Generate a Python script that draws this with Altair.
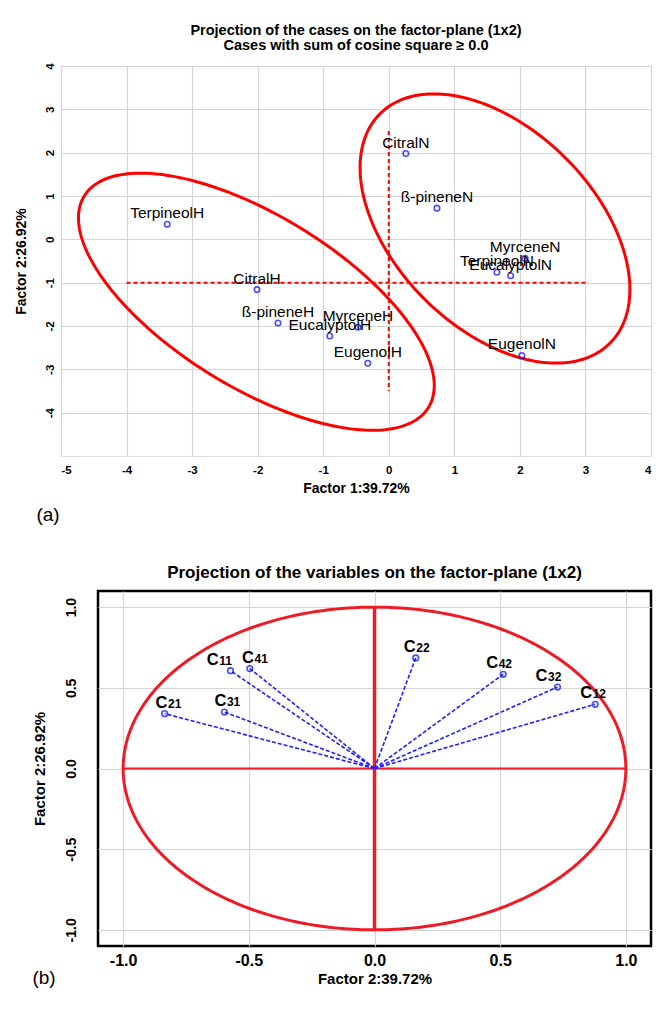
import numpy as np
import pandas as pd
import altair as alt

FONT = "Liberation Sans"

# ---------------- Panel (a): projection of the cases ----------------
case_names = ["TerpineolH", "CitralH", "ß-pineneH", "EucalyptolH", "MyrceneH", "EugenolH",
              "CitralN", "ß-pineneN", "TerpineolN", "EucalyptolN", "MyrceneN", "EugenolN"]
case_f1 = [-3.38, -2.01, -1.69, -0.90, -0.47, -0.32, 0.26, 0.735, 1.65, 1.86, 2.08, 2.03]
case_f2 = [0.35, -1.16, -1.93, -2.23, -2.03, -2.86, 1.98, 0.72, -0.76, -0.84, -0.44, -2.68]

# dashed reference cross (start / end)
cross_x1 = [-4.0, 0.0]
cross_x2 = [3.0, 0.0]
cross_y1 = [-1.0, 2.5]
cross_y2 = [-1.0, -3.5]

# group ellipses: centre and two conjugate semi-axis vectors (data units)
ell_groups = ["H", "N"]
ell_cx = [-2.02, 1.62]
ell_cy = [-1.44, 0.25]
ell_u = [(2.637, -2.410), (1.794, -2.582)]
ell_v = [(-0.641, -1.731), (-1.008, -1.728)]

x_ticks_a = [-5, -4, -3, -2, -1, 0, 1, 2, 3, 4]
y_ticks_a = [-4, -3, -2, -1, 0, 1, 2, 3, 4]

# ---------------- Panel (b): projection of the variables ----------------
var_sub = ["11", "21", "31", "41", "12", "22", "32", "42"]
var_f1 = [-0.573, -0.835, -0.597, -0.496, 0.878, 0.164, 0.728, 0.512]
var_f2 = [0.606, 0.340, 0.350, 0.619, 0.398, 0.685, 0.505, 0.584]
# label nudges (pixels, left edge of "C" relative to the point)
var_label_dx = [-23.7, -9.0, -10.0, -7.7, -15.0, -12.0, -22.0, -17.0]

cross_b_x1 = [-1.0, 0.0]
cross_b_x2 = [1.0, 0.0]
cross_b_y1 = [0.0, -1.0]
cross_b_y2 = [0.0, 1.0]
ticks_b = [-1.0, -0.5, 0.0, 0.5, 1.0]

MINUS_FIX = "replace(datum.label, '\u2212', '-')"

# ---------------- build panel (a) ----------------
df_cases = pd.DataFrame({"f1": case_f1, "f2": case_f2, "name": case_names})
df_cross = pd.DataFrame({"f1": cross_x1, "f1e": cross_x2, "f2": cross_y1, "f2e": cross_y2})

t = np.linspace(0, 2 * np.pi, 241)
rows = []
for g, cx, cy, u, v in zip(ell_groups, ell_cx, ell_cy, ell_u, ell_v):
    for k, tt in enumerate(t):
        rows.append({"grp": g, "k": k,
                     "f1": cx + np.cos(tt) * u[0] + np.sin(tt) * v[0],
                     "f2": cy + np.cos(tt) * u[1] + np.sin(tt) * v[1]})
df_ell = pd.DataFrame(rows)

axis_ax = alt.Axis(values=x_ticks_a, grid=True, gridColor="#d4d4d4", gridWidth=1.2, domain=False,
                   ticks=False, labelFont=FONT, labelFontWeight="bold", labelFontSize=11.5,
                   labelColor="black", labelPadding=8, labelExpr=MINUS_FIX,
                   titleFont=FONT, titleFontWeight="bold", titleFontSize=14, titleColor="black",
                   titlePadding=6)
axis_ay = alt.Axis(values=y_ticks_a, grid=True, gridColor="#d4d4d4", gridWidth=1.2, domain=False,
                   ticks=False, labelFont=FONT, labelFontWeight="bold", labelFontSize=11.5,
                   labelColor="black", labelPadding=6, labelAngle=270, labelAlign="center",
                   labelBaseline="bottom", labelExpr=MINUS_FIX,
                   titleFont=FONT, titleFontWeight="bold", titleFontSize=14, titleColor="black",
                   titlePadding=16)
sx_a = alt.Scale(domain=[-5, 4], nice=False, zero=False)
sy_a = alt.Scale(domain=[-5, 4], nice=False, zero=False)


def xa(field="f1"):
    return alt.X(f"{field}:Q", scale=sx_a, axis=axis_ax, title="Factor 1:39.72%")


def ya(field="f2"):
    return alt.Y(f"{field}:Q", scale=sy_a, axis=axis_ay, title="Factor 2:26.92%")


ell_a = alt.Chart(df_ell).mark_line(color="#ff0000", strokeWidth=3, clip=True).encode(
    x=xa(), y=ya(), detail="grp:N", order="k:Q")
cross_a = alt.Chart(df_cross).mark_rule(color="#ff0000", strokeWidth=2, strokeDash=[4, 3]).encode(
    x=xa(), x2="f1e:Q", y=ya(), y2="f2e:Q")
pts_a = alt.Chart(df_cases).mark_point(shape="circle", filled=False, color="#0000ff", size=30,
                                       strokeWidth=1.6).encode(x=xa(), y=ya())
lab_a = alt.Chart(df_cases).mark_text(align="center", baseline="alphabetic", dy=-6, font=FONT,
                                      fontSize=15.5, color="black").encode(x=xa(), y=ya(), text="name:N")
tag_a = alt.Chart(pd.DataFrame({"t": ["(a)"]})).mark_text(font=FONT, fontSize=19, align="center",
                                                          baseline="middle", color="black").encode(
    text="t:N", x=alt.value(-13), y=alt.value(449))

panel_a = alt.layer(ell_a, cross_a, pts_a, lab_a, tag_a).properties(
    width=590, height=390,
    title=alt.TitleParams(["Projection of the cases on the factor-plane (1x2)",
                           "Cases with sum of cosine square \u2265 0.0"],
                          font=FONT, fontSize=14.5, fontWeight="bold", color="black",
                          lineHeight=15.5, offset=9, anchor="middle"))

# ---------------- build panel (b) ----------------
df_vars = pd.DataFrame({"f1": var_f1, "f2": var_f2, "c": ["C"] * len(var_sub), "sub": var_sub})
df_cross_b = pd.DataFrame({"f1": cross_b_x1, "f1e": cross_b_x2, "f2": cross_b_y1, "f2e": cross_b_y2})
tc = np.linspace(0, 2 * np.pi, 241)
df_circ = pd.DataFrame({"f1": np.cos(tc), "f2": np.sin(tc), "k": np.arange(len(tc))})

axis_bx = alt.Axis(values=ticks_b, format=".1f", grid=True, gridColor="#d4d4d4", gridWidth=1.2,
                   domain=False, ticks=False, labelFont=FONT, labelFontWeight="bold", labelFontSize=16,
                   labelColor="black", labelPadding=6, labelExpr=MINUS_FIX,
                   titleFont=FONT, titleFontWeight="bold", titleFontSize=15, titleColor="black",
                   titlePadding=3)
axis_by = alt.Axis(values=ticks_b, format=".1f", grid=True, gridColor="#d4d4d4", gridWidth=1.2,
                   domain=False, ticks=False, labelFont=FONT, labelFontWeight="bold", labelFontSize=14,
                   labelColor="black", labelPadding=20, labelAngle=270, labelAlign="center",
                   labelBaseline="bottom", labelExpr=MINUS_FIX,
                   titleFont=FONT, titleFontWeight="bold", titleFontSize=15, titleColor="black",
                   titlePadding=17)
sx_b = alt.Scale(domain=[-1.1, 1.1], nice=False, zero=False)
sy_b = alt.Scale(domain=[-1.1, 1.1], nice=False, zero=False)


def xb(field="f1"):
    return alt.X(f"{field}:Q", scale=sx_b, axis=axis_bx, title="Factor 2:39.72%")


def yb(field="f2"):
    return alt.Y(f"{field}:Q", scale=sy_b, axis=axis_by, title="Factor 2:26.92%")


circ_b = alt.Chart(df_circ).mark_line(color="#ed1c24", strokeWidth=3).encode(
    x=xb(), y=yb(), order="k:Q")
crossb_h = alt.Chart(df_cross_b.iloc[[0]]).mark_rule(color="#ed1c24", strokeWidth=2).encode(
    x=xb(), x2="f1e:Q", y=yb(), y2="f2e:Q")
crossb_v = alt.Chart(df_cross_b.iloc[[1]]).mark_rule(color="#ed1c24", strokeWidth=3.5).encode(
    x=xb(), x2="f1e:Q", y=yb(), y2="f2e:Q")
vec_b = alt.Chart(df_vars).transform_calculate(o="0").mark_rule(
    color="#1f1fff", strokeWidth=1.6, strokeDash=[4, 2]).encode(
    x=xb("o"), y=yb("o"), x2="f1:Q", y2="f2:Q")
pts_b = alt.Chart(df_vars).mark_point(shape="circle", filled=False, color="#0000ff", size=32,
                                      strokeWidth=1.6).encode(x=xb(), y=yb())

label_layers = []
for i, dx in enumerate(var_label_dx):
    one = df_vars.iloc[[i]]
    label_layers.append(alt.Chart(one).mark_text(
        align="left", baseline="alphabetic", dx=dx, dy=-6, font=FONT, fontSize=16.5,
        fontWeight="bold", color="black").encode(x=xb(), y=yb(), text="c:N"))
    label_layers.append(alt.Chart(one).mark_text(
        align="left", baseline="alphabetic", dx=dx + 12.5, dy=-6, font=FONT, fontSize=12,
        fontWeight="bold", color="black").encode(x=xb(), y=yb(), text="sub:N"))

tag_b = alt.Chart(pd.DataFrame({"t": ["(b)"]})).mark_text(font=FONT, fontSize=19, align="center",
                                                          baseline="middle", color="black").encode(
    text="t:N", x=alt.value(-54), y=alt.value(387))

panel_b = alt.layer(circ_b, crossb_h, crossb_v, vec_b, pts_b, *label_layers, tag_b).properties(
    width=553, height=355,
    view=alt.ViewBackground(stroke="black", strokeWidth=2.5),
    title=alt.TitleParams("Projection of the variables on the factor-plane (1x2)",
                          font=FONT, fontSize=17, fontWeight="bold", color="black",
                          offset=9, anchor="middle"))

spacer = alt.Chart(pd.DataFrame({"z": [0]})).mark_point(opacity=0).encode(
    x=alt.value(0), y=alt.value(0)).properties(
    width=37, height=10, view=alt.ViewBackground(strokeOpacity=0))

chart = alt.vconcat(
    panel_a,
    alt.hconcat(spacer, panel_b, spacing=0, bounds="flush"),
    spacing=135,
    bounds="flush",
).properties(
    padding={"left": 5, "top": 14, "right": 0, "bottom": 0}
).configure_view(stroke="black", strokeWidth=2).configure(background="white")

chart.save("out.html", embed_options={"renderer": "svg", "actions": False})
